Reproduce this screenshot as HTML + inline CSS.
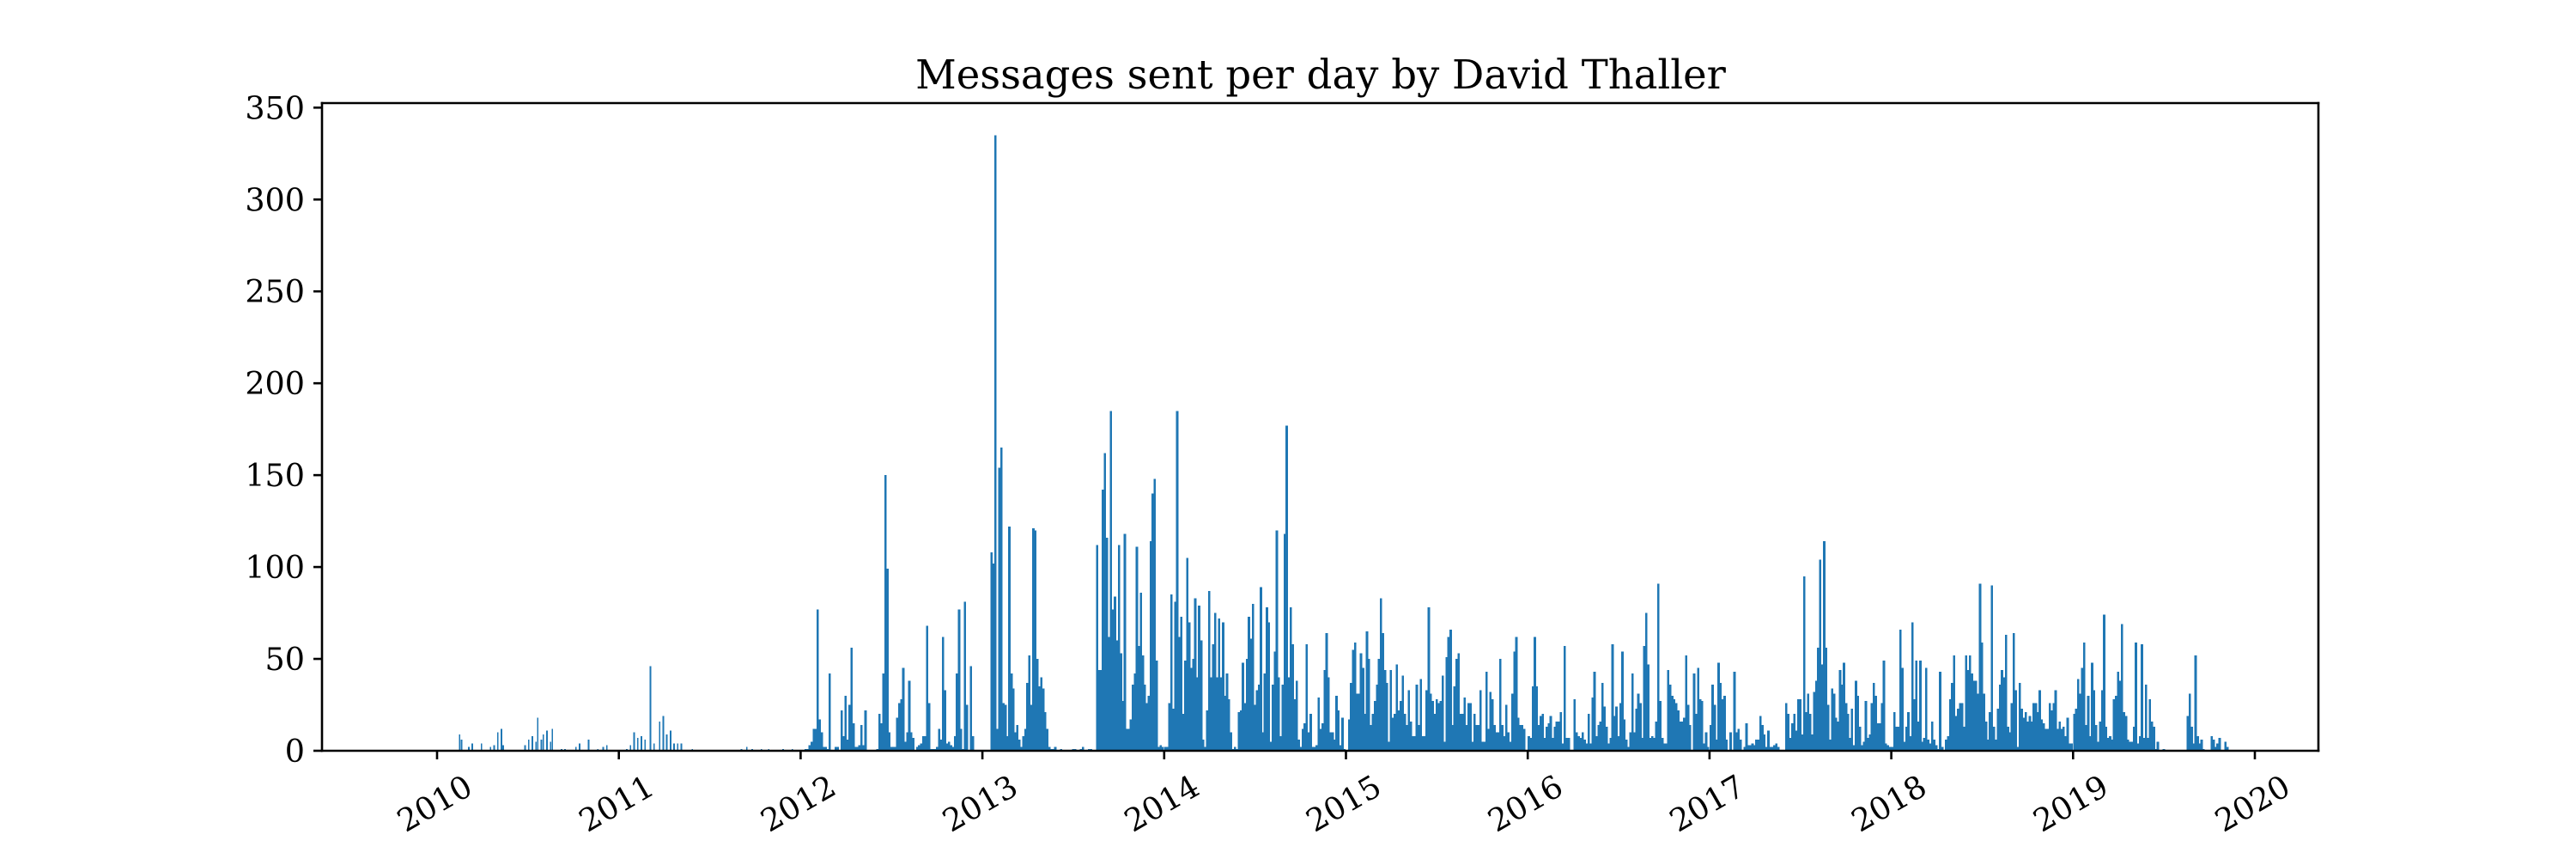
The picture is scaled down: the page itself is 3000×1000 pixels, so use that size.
<!DOCTYPE html>
<html><head><meta charset="utf-8"><title>Messages sent per day by David Thaller</title>
<style>
html,body{margin:0;padding:0;background:#fff;}
svg{display:block;}
text{font-family:"DejaVu Serif","Liberation Serif",serif;fill:#000;}
</style></head>
<body>
<svg id="chart" width="3000" height="1000" viewBox="0 0 3000 1000" xmlns="http://www.w3.org/2000/svg">
<rect x="0" y="0" width="3000" height="1000" fill="#fff"/>
<text x="1538" y="103" font-size="46.5" text-anchor="middle">Messages sent per day by David Thaller</text>
<g id="bars" shape-rendering="crispEdges"></g>
<g id="axes"></g>
</svg>
<script>
const yTicks = [0, 50, 100, 150, 200, 250, 300, 350];
const xTickYears = [2010, 2011, 2012, 2013, 2014, 2015, 2016, 2017, 2018, 2019, 2020];
const earlyYears = [2009.87,2009.93,2010.12,2010.13,2010.17,2010.19,2010.24,2010.29,2010.31,2010.33,2010.35,2010.36,2010.48,2010.5,2010.52,2010.54,2010.55,2010.57,2010.58,2010.6,2010.62,2010.63,2010.68,2010.7,2010.76,2010.78,2010.83,2010.88,2010.91,2010.93,2011.04,2011.06,2011.08,2011.1,2011.12,2011.14,2011.17,2011.19,2011.22,2011.24,2011.26,2011.28,2011.3,2011.32,2011.34,2011.4,2011.67,2011.7,2011.73,2011.78,2011.82,2011.9,2011.95];
const earlyValues = [0.5,0.5,9,6,2,4,4,2,3,10,12,3,3,6,8,5,18,6,9,11,5,12,1,1,2,4,6,1,2,3,1,3,10,7,8,6,46,4,16,19,9,11,4,4,4,1,1,2,1,1,1,1,1];
const v2012 = [0,0,1,1,3,5,12,12,77,17,10,2,2,1,42,0,0,2,2,0,22,8,30,6,25,56,15,2,2,3,14,3,22,0,0,0,0,0,1,20,15,42,150,99,10,2,2,2,18,26,28,45,5,10,38,10,7,0,2,3,4,8,8,68,26,1,1,1,2,12,6,62,33,4,5,3,2,8,42,77,12,1,81,25,0,46,8,0,0,0,0];
const v2013 = [0,0,0,0,108,102,335,12,154,165,26,25,8,122,42,34,10,14,6,2,8,12,37,52,25,121,120,50,35,40,34,21,12,2,1,1,2,0,0,1,0,0,0,0,0,1,1,0,0,1,2,0,0,1,1,0,0,112,44,44,142,162,116,62,185,77,84,60,112,53,27,118,12,12,17,36,42,111,57,86,52,36,26,30,114,140,148,49,2,3,2];
const v2014 = [2,2,26,85,23,81,185,62,73,20,49,105,70,45,50,83,40,79,60,6,2,22,87,40,58,75,40,72,40,70,30,42,28,10,1,2,1,21,22,48,26,50,73,61,80,25,33,36,89,10,42,78,70,5,36,54,120,40,8,36,118,177,40,78,58,28,38,6,2,12,15,58,10,20,2,2,3,29,12,15,44,64,40,10,10,6,30,22,3,18,1];
const v2015 = [0,17,37,55,59,31,31,53,45,20,65,50,14,20,27,36,50,83,64,44,37,5,44,18,20,47,22,27,41,20,14,33,16,8,8,36,14,39,8,8,33,78,31,27,20,28,26,27,41,5,51,62,66,14,35,50,53,20,20,29,14,26,26,5,20,14,14,33,5,5,43,12,32,28,14,10,10,50,14,8,25,10,5,31,54,62,18,14,14,12,0];
const v2016 = [8,7,35,62,35,14,19,20,7,13,15,19,7,13,16,16,21,4,57,7,7,0,0,28,10,8,7,10,6,4,20,4,29,43,8,14,16,37,24,13,4,7,58,19,24,8,26,54,17,6,2,10,42,10,23,31,26,7,57,75,47,7,8,7,16,91,27,7,4,4,44,36,30,28,26,22,16,16,18,52,25,14,0,42,20,45,28,27,4,10,2];
const v2017 = [14,36,25,6,48,37,28,30,6,0,10,0,43,10,12,6,0,2,15,3,3,4,3,6,6,19,14,9,2,11,2,2,3,4,2,0,0,0,26,20,7,15,20,11,28,28,9,95,21,31,20,9,32,38,56,104,47,114,56,25,6,34,31,18,16,44,36,48,26,20,7,23,3,38,30,13,3,5,27,7,9,26,37,30,15,15,26,49,4,3,2];
const v2018 = [2,21,13,13,66,45,5,13,21,8,70,28,49,16,49,5,7,45,6,4,16,6,3,1,43,2,0,6,8,28,37,52,19,23,26,26,13,52,44,52,42,38,38,31,91,59,31,16,6,21,90,13,6,23,36,44,40,63,13,10,26,64,33,2,37,23,18,21,16,19,16,26,26,21,33,17,15,12,12,26,22,26,33,12,16,12,13,8,18,4,4];
const v2019 = [20,23,39,31,45,59,14,30,8,48,33,14,5,16,33,74,13,7,8,6,28,30,43,38,69,21,19,6,5,5,13,59,4,8,58,7,36,7,28,16,13,1,5,0,0,1,0,0,0,0,0,0,0,0,0,0,0,19,31,13,4,52,8,4,6,1,0,0,0,8,6,2,4,7,0,0,5,2,0,0,0,0,0,0,0,0,0,0,0,0,0];
const denseStartYears = [2012, 2013, 2014, 2015, 2016, 2017, 2018, 2019];
const denseSeries = [v2012, v2013, v2014, v2015, v2016, v2017, v2018, v2019];

const PLOT = {left: 375, right: 2700, top: 120, bottom: 874};
const X0 = 509, PX_PER_YEAR = 211.7;
const Y_PER_UNIT = (874 - 125.3) / 350;
function xScale(year) { return X0 + (year - 2010) * PX_PER_YEAR; }
function yScale(v) { return PLOT.bottom - v * Y_PER_UNIT; }
const NS = 'http://www.w3.org/2000/svg';
const barsG = document.getElementById('bars');
const axesG = document.getElementById('axes');
const COLOR = '#1f77b4';

function addBar(year, v, w, idx) {
  if (v <= 0) return;
  const r = document.createElementNS(NS, 'rect');
  
  
  const x = xScale(year);
  const y = yScale(v);
  r.setAttribute('x', x.toFixed(2));
  r.setAttribute('y', y.toFixed(2));
  r.setAttribute('width', w);
  r.setAttribute('height', (PLOT.bottom - y).toFixed(2));
  r.setAttribute('fill', COLOR);
  barsG.appendChild(r);
}
earlyYears.forEach(function (yr, i) { addBar(yr, earlyValues[i], 1.8, 'early-' + i); });
const STEP = 4 / 365.25;
const DENSE_W = (STEP * PX_PER_YEAR + 0.4).toFixed(2);
denseSeries.forEach(function (arr, s) {
  arr.forEach(function (v, i) { addBar(denseStartYears[s] + i * STEP, v, DENSE_W, denseStartYears[s] + '-' + i); });
});

function line(x1, y1, x2, y2, name) {
  const l = document.createElementNS(NS, 'line');
  
  
  l.setAttribute('x1', x1); l.setAttribute('y1', y1);
  l.setAttribute('x2', x2); l.setAttribute('y2', y2);
  l.setAttribute('stroke', '#000');
  l.setAttribute('stroke-width', '2.6');
  l.setAttribute('stroke-linecap', 'square');
  axesG.appendChild(l);
}
line(PLOT.left, PLOT.top, PLOT.right, PLOT.top, 'top-spine');
line(PLOT.left, PLOT.bottom, PLOT.right, PLOT.bottom, 'x-axis-line');
line(PLOT.left, PLOT.top, PLOT.left, PLOT.bottom, 'y-axis-line');
line(PLOT.right, PLOT.top, PLOT.right, PLOT.bottom, 'right-spine');

yTicks.forEach(function (t) {
  const y = yScale(t);
  const tk = document.createElementNS(NS, 'line');
  
  
  tk.setAttribute('x1', PLOT.left - 10); tk.setAttribute('x2', PLOT.left);
  tk.setAttribute('y1', y); tk.setAttribute('y2', y);
  tk.setAttribute('stroke', '#000'); tk.setAttribute('stroke-width', '2.6');
  axesG.appendChild(tk);
  const tx = document.createElementNS(NS, 'text');
  
  
  tx.setAttribute('x', PLOT.left - 20);
  tx.setAttribute('y', y + 13);
  tx.setAttribute('font-size', '36.5');
  tx.setAttribute('text-anchor', 'end');
  tx.textContent = String(t);
  axesG.appendChild(tx);
});

xTickYears.forEach(function (yr) {
  const x = xScale(yr);
  const tk = document.createElementNS(NS, 'line');
  
  
  tk.setAttribute('x1', x); tk.setAttribute('x2', x);
  tk.setAttribute('y1', PLOT.bottom); tk.setAttribute('y2', PLOT.bottom + 10);
  tk.setAttribute('stroke', '#000'); tk.setAttribute('stroke-width', '2.6');
  axesG.appendChild(tk);
  const cx = x - 3, cy = 935;
  const tx = document.createElementNS(NS, 'text');
  
  
  tx.setAttribute('x', cx);
  tx.setAttribute('y', cy + 13);
  tx.setAttribute('font-size', '36.5');
  tx.setAttribute('text-anchor', 'middle');
  tx.setAttribute('transform', 'rotate(-30 ' + cx + ' ' + cy + ')');
  tx.textContent = String(yr);
  axesG.appendChild(tx);
});
</script>
</body></html>
